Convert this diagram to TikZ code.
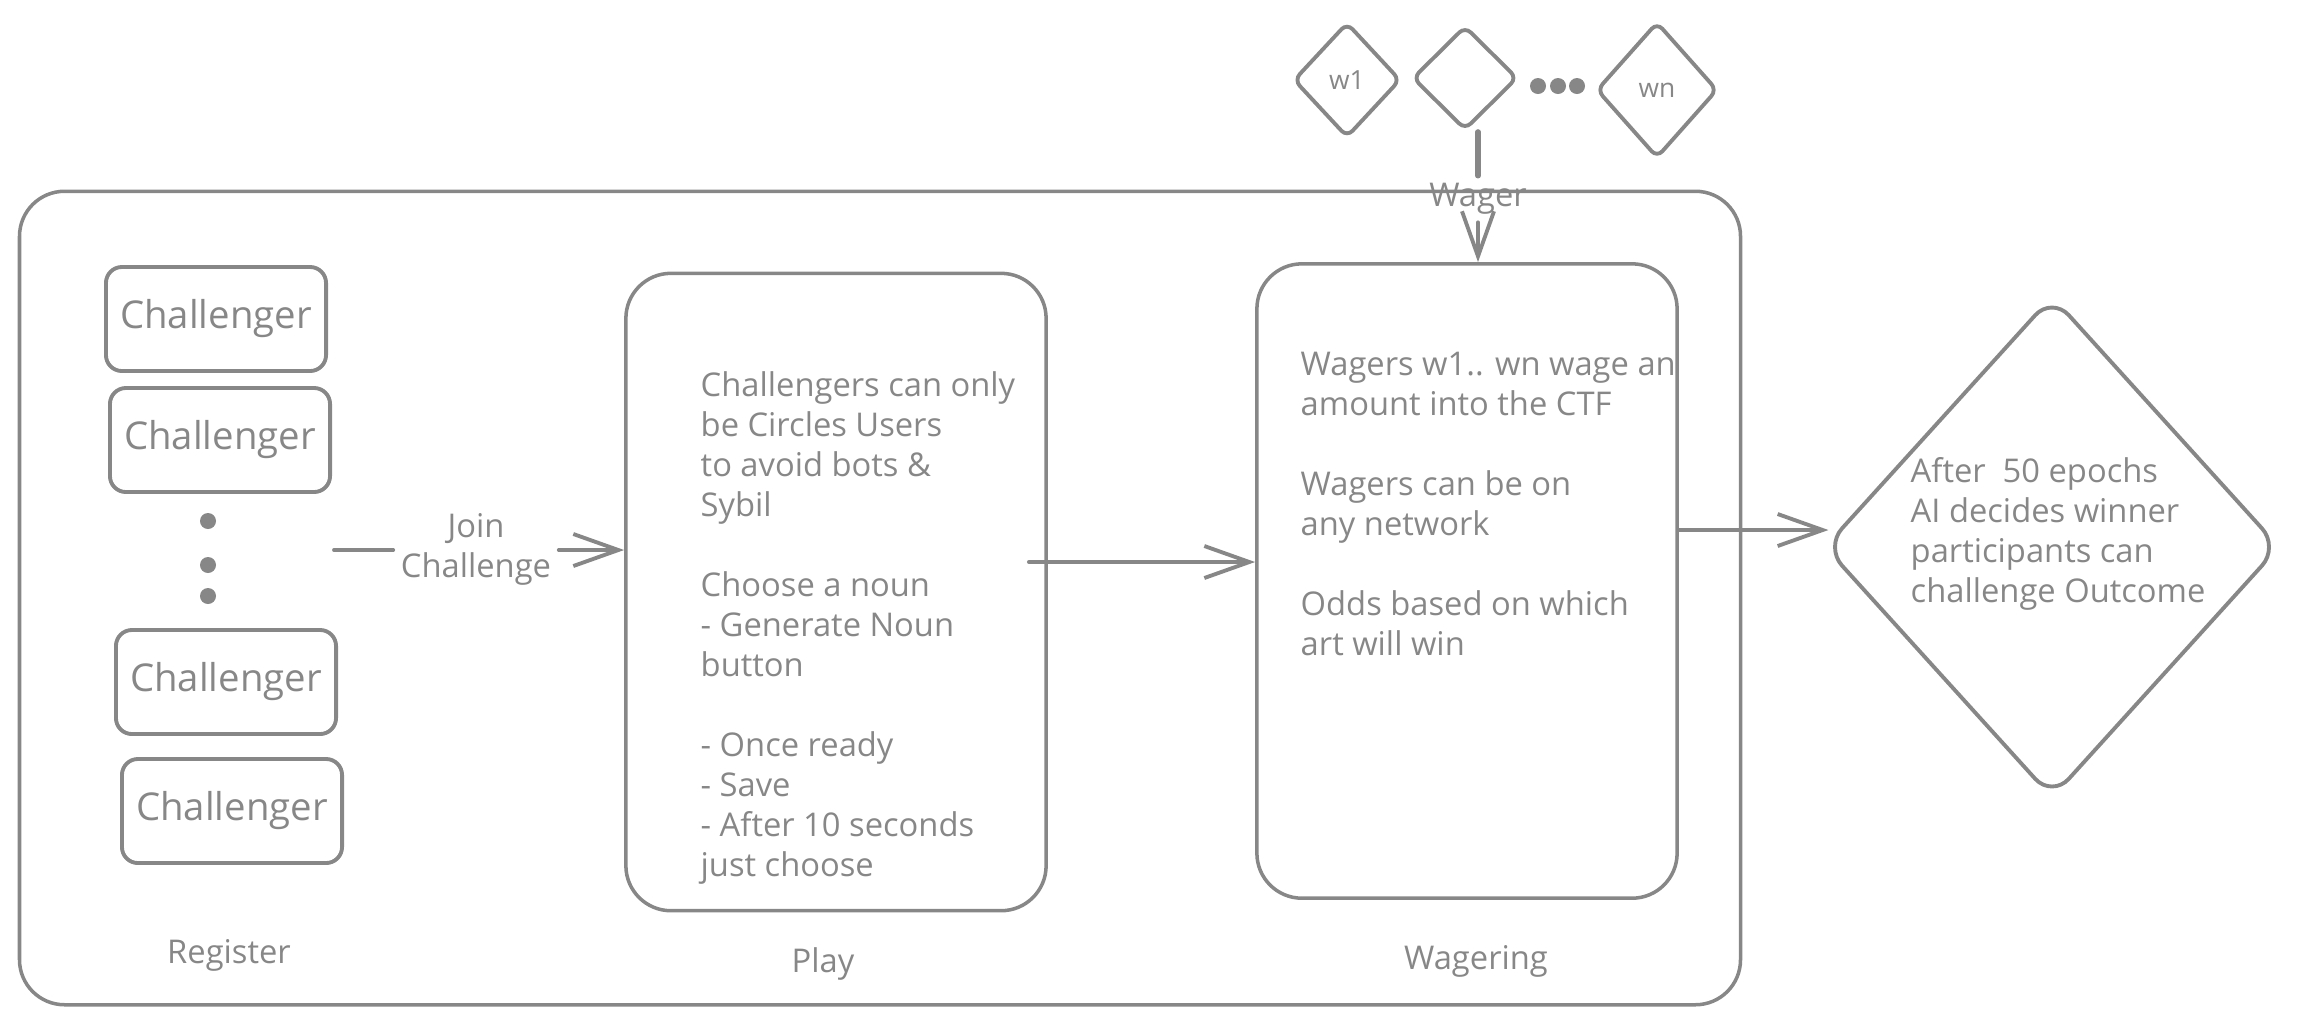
\documentclass[tikz,border=0pt]{standalone}
\usepackage{fontspec}
\setmainfont{Open Sans}
\usetikzlibrary{positioning,arrows.meta,shapes.geometric,calc}
\definecolor{ink}{HTML}{878787}
\tikzset{
  boxframe/.style={draw=ink,line width=1pt,rounded corners=0.45cm,inner sep=0pt},
  challbox/.style={draw=ink,line width=1.1pt,rounded corners=0.16cm,minimum width=2.2cm,minimum height=1.04cm,text=ink,font=\fontsize{10.9}{13}\selectfont},
  wagerer/.style={draw=ink,line width=1.1pt,diamond,rounded corners=0.08cm,inner sep=0pt,text=ink,font=\fontsize{7.5}{9}\selectfont},
  note/.style={text=ink,align=left,anchor=north west,inner sep=0pt,font=\fontsize{9.3}{11.38}\selectfont},
  stagelbl/.style={text=ink,font=\fontsize{9.3}{11.38}\selectfont},
  edgelbl/.style={text=ink,align=center,inner sep=2pt,font=\fontsize{9.3}{11.38}\selectfont},
  bullet/.style={circle,fill=ink,inner sep=0pt,minimum size=0.16cm},
  link/.style={draw=ink,line width=1.1pt,line cap=round},
  arr/.style={link,-{Straight Barb[length=0.45cm,width=0.32cm]}},
}
\begin{document}
\begin{tikzpicture}[x=0.01cm,y=-0.01cm]
  \useasboundingbox (0,0) rectangle (2300,1023);
  % container
  \node[boxframe,minimum width=17.2cm,minimum height=8.13cm] (stage) at (880,598) {};
  % register column
  \foreach \n/\x/\y in {1/216/319,2/220/440,3/226/682,4/232/811}
    \node[challbox] (c\n) at (\x,\y) {Challenger};
  \foreach \n/\y in {1/521,2/565,3/596}
    \node[bullet] (v\n) at (208,\y) {};
  % play and wagering
  \node[boxframe,minimum width=4.2cm,minimum height=6.37cm] (play) at (836,592) {};
  \node[boxframe,minimum width=4.2cm,minimum height=6.34cm] (wagering) at (1467,581) {};
  \node[draw=ink,line width=1.1pt,diamond,rounded corners=0.25cm,inner sep=0pt,minimum width=4.55cm,minimum height=5.02cm] (outcome) at (2052,547) {};
  % wagerers
  \node[wagerer,minimum width=1.07cm,minimum height=1.15cm] (w1) at (1347,80) {w1};
  \node[wagerer,minimum width=1.05cm,minimum height=1.04cm] (wmid) at (1465,78) {};
  \node[wagerer,minimum width=1.21cm,minimum height=1.36cm] (wn) at (1657,90) {wn};
  \foreach \n/\x in {1/1538,2/1558,3/1577}
    \node[bullet] (h\n) at (\x,86) {};
  % texts
  \node[note] (playtext) at (700,371) {Challengers can only\\be Circles Users\\to avoid bots \&\\Sybil\\[11.38pt]Choose a noun\\- Generate Noun\\button\\[11.38pt]- Once ready\\- Save\\- After 10 seconds\\just choose};
  \node[note] (wagertext) at (1300,351) {Wagers w1.. wn wage an\\amount into the CTF\\[11.38pt]Wagers can be on\\any network\\[11.38pt]Odds based on which\\art will win};
  \node[note] (outcometext) at (1910,457) {After \ 50 epochs\\AI decides winner\\participants can\\challenge Outcome};
  \node[stagelbl] (lblreg) at (229,955) {Register};
  \node[stagelbl] (lblplay) at (823,964) {Play};
  \node[stagelbl] (lblwag) at (1476,961) {Wagering};
  % connectors
  \coordinate (joinstart) at (334,550);
  \node[edgelbl] (joinlbl) at (476,549) {Join\\Challenge};
  \draw[link] (joinstart) -- (joinlbl.west |- joinstart);
  \draw[arr] (joinlbl.east |- joinstart) -- (play.west |- joinstart);
  \draw[arr] ([shift={(-19,-30)}]play.east) -- ([shift={(0,-19)}]wagering.west);
  \draw[arr] ([shift={(0,-51)}]wagering.east) -- ([shift={(6,-17)}]outcome.west);
  \node[edgelbl] (wagerlbl) at (1478,199) {Wager};
  \draw[link,line width=1.6pt] (wagerlbl.north |- wmid.south) -- (wagerlbl.north);
  \draw[arr] (wagerlbl.south) -- (wagerlbl.south |- wagering.north);
\end{tikzpicture}
\end{document}
